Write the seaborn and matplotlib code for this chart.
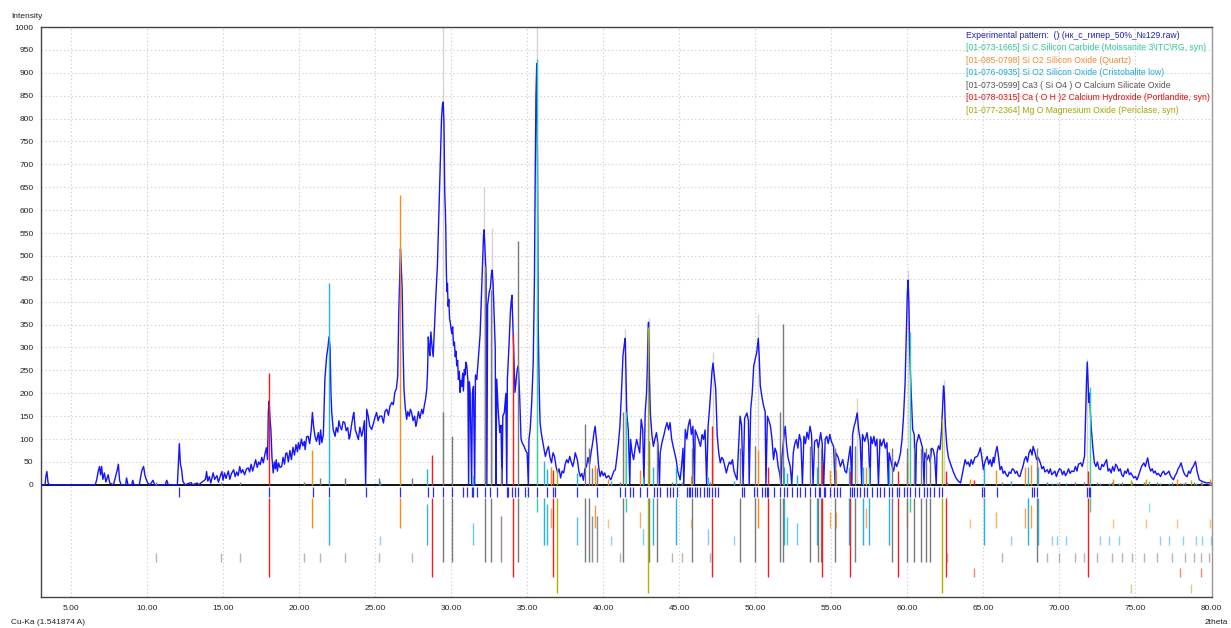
import numpy as np
import pandas as pd
import matplotlib
matplotlib.use("Agg")
import matplotlib.pyplot as plt
import seaborn as sns
from matplotlib.ticker import FixedLocator, FuncFormatter

# ---------------------------------------------------------------
# Measured profile: (2theta, counts), split by angular range
# ---------------------------------------------------------------
profile_3_17 = [
    (3.0, 0), (3.3, 0), (3.35, 18), (3.42, 29), (3.5, 4), (3.6, 0), (4.0, 0), (5.0, 0), (6.0, 0),
    (6.6, 0), (6.7, 12), (6.8, 30), (6.88, 40), (6.95, 22), (7.02, 40), (7.1, 12), (7.2, 26),
    (7.3, 6), (7.45, 22), (7.55, 4), (7.8, 0), (7.95, 20), (8.05, 33), (8.12, 45), (8.2, 10),
    (8.3, 0), (8.6, 0), (8.66, 15), (8.75, 0), (9.0, 0), (9.06, 10), (9.15, 0), (9.5, 0),
    (9.6, 20), (9.68, 33), (9.78, 40), (9.86, 22), (9.95, 12), (10.05, 4), (10.2, 0), (10.4, 10),
    (10.5, 0), (11.2, 0), (11.3, 10), (11.4, 0), (12.0, 0), (12.06, 40), (12.13, 90), (12.2, 45),
    (12.28, 33), (12.36, 8), (12.5, 0), (12.9, 5), (13.0, 0), (13.3, 4), (13.4, 0), (13.85, 12),
    (13.92, 29), (14.0, 8), (14.1, 18), (14.2, 4), (14.35, 26), (14.45, 12), (14.6, 20), (14.7, 6),
    (14.85, 22), (14.93, 29), (15.0, 10), (15.1, 26), (15.2, 14), (15.35, 30), (15.45, 12),
    (15.55, 24), (15.7, 33), (15.8, 18), (15.9, 28), (16.0, 20), (16.1, 40), (16.2, 26),
    (16.3, 33), (16.42, 22), (16.55, 35), (16.66, 37), (16.75, 28), (16.85, 45), (16.95, 30),
]

profile_17_27 = [
    (17.05, 42), (17.15, 55), (17.25, 38), (17.35, 50), (17.45, 44), (17.55, 60), (17.65, 48),
    (17.75, 66), (17.85, 81), (17.93, 55), (17.98, 158), (18.03, 183), (18.1, 140), (18.15, 121),
    (18.22, 60), (18.3, 26), (18.38, 50), (18.45, 35), (18.5, 55), (18.58, 30), (18.65, 48),
    (18.75, 38), (18.86, 40), (18.95, 60), (19.05, 45), (19.12, 68), (19.2, 70), (19.3, 50),
    (19.4, 75), (19.5, 55), (19.6, 82), (19.7, 65), (19.8, 88), (19.9, 72), (19.96, 92),
    (20.05, 78), (20.15, 100), (20.25, 85), (20.35, 95), (20.4, 77), (20.5, 105), (20.6, 106),
    (20.7, 90), (20.8, 120), (20.88, 158), (20.95, 130), (21.05, 106), (21.15, 95), (21.27, 114),
    (21.35, 88), (21.42, 120), (21.5, 92), (21.6, 110), (21.7, 231), (21.82, 282), (21.9, 300),
    (21.97, 323), (22.04, 300), (22.1, 200), (22.15, 158), (22.25, 120), (22.37, 106),
    (22.45, 125), (22.55, 115), (22.62, 140), (22.7, 128), (22.8, 120), (22.9, 138), (23.0, 136),
    (23.1, 118), (23.2, 125), (23.3, 100), (23.35, 106), (23.45, 130), (23.55, 150), (23.6, 158),
    (23.7, 120), (23.8, 110), (23.9, 99), (24.0, 126), (24.12, 106), (24.2, 118), (24.3, 140),
    (24.38, 0), (24.45, 165), (24.55, 150), (24.65, 128), (24.78, 121), (24.9, 135), (25.0, 148),
    (25.1, 158), (25.2, 140), (25.3, 150), (25.44, 150), (25.55, 135), (25.65, 160), (25.77, 165),
    (25.88, 152), (25.98, 172), (26.1, 180), (26.2, 175), (26.3, 202), (26.4, 210), (26.49, 238),
    (26.56, 378), (26.62, 450), (26.67, 515),
]

profile_27_38 = [
    (26.72, 480), (26.78, 429), (26.84, 300), (26.9, 209), (26.98, 170), (27.08, 143),
    (27.15, 160), (27.25, 150), (27.32, 165), (27.4, 158), (27.5, 140), (27.6, 150), (27.68, 128),
    (27.74, 136), (27.85, 160), (27.95, 145), (28.07, 165), (28.15, 155), (28.25, 175),
    (28.32, 187), (28.4, 210), (28.45, 246), (28.5, 323), (28.55, 300), (28.6, 282), (28.67, 334),
    (28.75, 300), (28.82, 280), (28.9, 340), (29.0, 414), (29.1, 480), (29.2, 598), (29.3, 708),
    (29.37, 800), (29.43, 830), (29.48, 836), (29.53, 790), (29.58, 640), (29.62, 600),
    (29.65, 561), (29.68, 480), (29.72, 422), (29.76, 440), (29.8, 390), (29.85, 405),
    (29.9, 362), (29.94, 356), (30.0, 340), (30.05, 330), (30.1, 345), (30.16, 304),
    (30.22, 312), (30.27, 280), (30.32, 292), (30.37, 260), (30.43, 272), (30.48, 230),
    (30.54, 248), (30.59, 202), (30.65, 228), (30.7, 215), (30.76, 244), (30.81, 205),
    (30.87, 252), (30.92, 240), (30.97, 268), (31.03, 260), (31.1, 230), (31.15, 0),
    (31.2, 225), (31.25, 205), (31.35, 0), (31.4, 200), (31.47, 215), (31.55, 0), (31.6, 240),
    (31.69, 230), (31.8, 280), (31.91, 330), (32.0, 420), (32.08, 500), (32.13, 545),
    (32.17, 557), (32.22, 520), (32.3, 460), (32.35, 0), (32.4, 392), (32.5, 420), (32.58, 430),
    (32.65, 460), (32.7, 469), (32.76, 440), (32.82, 380), (32.9, 300), (32.95, 0), (33.0, 231),
    (33.1, 160), (33.2, 114), (33.28, 130), (33.35, 0), (33.4, 150), (33.5, 158), (33.6, 200),
    (33.66, 0), (33.7, 231), (33.8, 300), (33.9, 378), (33.95, 400), (34.0, 414), (34.05, 360),
    (34.12, 280), (34.2, 202), (34.28, 230), (34.35, 253), (34.42, 260), (34.5, 200),
    (34.56, 140), (34.6, 99), (34.7, 90), (34.8, 84), (34.9, 75), (35.0, 70), (35.08, 0),
    (35.12, 100), (35.2, 121), (35.3, 180), (35.4, 268), (35.48, 450), (35.53, 671),
    (35.58, 850), (35.63, 920), (35.68, 700), (35.73, 341), (35.8, 200), (35.85, 136),
    (35.92, 115), (36.0, 99), (36.1, 80), (36.2, 62), (36.3, 75), (36.4, 84), (36.5, 60),
    (36.6, 48), (36.7, 70), (36.8, 62), (36.9, 40), (37.0, 26), (37.1, 35), (37.2, 15),
    (37.3, 30), (37.4, 26), (37.5, 45), (37.6, 55), (37.7, 48), (37.8, 62), (37.9, 50),
    (38.0, 40),
]

profile_38_65 = [
    (38.1, 55), (38.16, 70), (38.25, 60), (38.3, 55), (38.4, 30), (38.5, 18), (38.6, 25),
    (38.7, 10), (38.8, 35), (38.9, 40), (39.0, 60), (39.1, 45), (39.2, 70), (39.3, 90),
    (39.4, 115), (39.47, 128), (39.55, 100), (39.6, 84), (39.7, 40), (39.8, 18), (39.9, 30),
    (40.0, 20), (40.1, 26), (40.2, 15), (40.35, 20), (40.5, 11), (40.6, 20), (40.7, 30),
    (40.8, 33), (40.9, 60), (41.0, 90), (41.1, 128), (41.2, 200), (41.3, 282), (41.4, 310),
    (41.45, 320), (41.5, 240), (41.55, 157), (41.65, 120), (41.75, 0), (41.8, 99), (41.9, 70),
    (42.0, 55), (42.1, 80), (42.2, 99), (42.3, 85), (42.4, 70), (42.5, 143), (42.6, 120),
    (42.68, 0), (42.76, 157), (42.85, 200), (42.9, 253), (42.95, 330), (42.98, 355),
    (43.03, 250), (43.1, 157), (43.2, 110), (43.3, 84), (43.4, 100), (43.5, 114), (43.6, 90),
    (43.7, 0), (43.75, 70), (43.85, 90), (44.0, 110), (44.1, 125), (44.2, 136), (44.3, 120),
    (44.4, 136), (44.5, 100), (44.6, 84), (44.7, 70), (44.8, 55), (44.9, 30), (45.06, 11),
    (45.15, 40), (45.25, 80), (45.3, 0), (45.4, 121), (45.5, 100), (45.6, 130), (45.7, 143),
    (45.8, 110), (45.9, 128), (46.0, 0), (46.05, 120), (46.2, 106), (46.3, 95), (46.4, 84),
    (46.5, 110), (46.6, 99), (46.7, 120), (46.8, 0), (46.9, 128), (47.0, 170), (47.1, 220),
    (47.15, 246), (47.22, 266), (47.3, 240), (47.4, 209), (47.5, 106), (47.6, 70), (47.7, 48),
    (47.8, 60), (47.9, 55), (48.0, 40), (48.1, 26), (48.2, 40), (48.3, 50), (48.4, 45),
    (48.5, 55), (48.6, 30), (48.7, 20), (48.8, 11), (48.9, 80), (49.0, 150), (49.1, 130),
    (49.2, 0), (49.3, 145), (49.45, 157), (49.55, 140), (49.6, 0), (49.7, 165), (49.8, 200),
    (49.9, 260), (50.0, 275), (50.1, 290), (50.15, 305), (50.2, 320), (50.26, 280), (50.33, 216),
    (50.45, 190), (50.55, 172), (50.65, 160), (50.7, 0), (50.8, 150), (50.9, 140), (51.0, 128),
    (51.1, 100), (51.2, 55), (51.3, 80), (51.4, 70), (51.5, 40), (51.6, 26), (51.7, 0),
    (51.75, 60), (51.9, 110), (51.97, 128), (52.05, 90), (52.15, 60), (52.3, 40), (52.4, 0),
    (52.5, 70), (52.6, 90), (52.7, 99), (52.8, 80), (52.9, 110), (53.0, 95), (53.1, 0),
    (53.2, 106), (53.3, 90), (53.4, 115), (53.5, 100), (53.6, 128), (53.7, 110), (53.8, 0),
    (53.9, 95), (54.05, 99), (54.15, 80), (54.3, 114), (54.4, 90), (54.5, 0), (54.6, 100),
    (54.7, 106), (54.8, 90), (54.9, 110), (55.0, 95), (55.15, 84), (55.25, 0), (55.3, 70),
    (55.45, 60), (55.6, 40), (55.75, 55), (55.9, 30), (56.0, 26), (56.1, 50), (56.25, 84),
    (56.35, 0), (56.4, 110), (56.5, 128), (56.6, 140), (56.7, 157), (56.8, 120), (56.9, 99),
    (57.0, 0), (57.05, 110), (57.2, 95), (57.35, 114), (57.45, 90), (57.55, 0), (57.6, 105),
    (57.7, 90), (57.8, 106), (57.9, 85), (58.0, 100), (58.1, 0), (58.2, 99), (58.3, 85),
    (58.45, 100), (58.55, 80), (58.66, 92), (58.75, 0), (58.8, 70), (58.9, 55), (59.0, 40),
    (59.1, 30), (59.2, 50), (59.3, 40), (59.45, 55), (59.55, 70), (59.65, 100), (59.75, 150),
    (59.85, 220), (59.9, 290), (59.95, 363), (60.0, 420), (60.05, 447), (60.1, 400),
    (60.15, 300), (60.2, 246), (60.28, 180), (60.35, 121), (60.45, 110), (60.55, 0), (60.6, 90),
    (60.75, 110), (60.85, 99), (61.0, 80), (61.1, 0), (61.15, 70), (61.3, 55), (61.4, 65),
    (61.5, 50), (61.6, 80), (61.7, 77), (61.8, 60), (61.9, 0), (61.95, 70), (62.05, 85),
    (62.15, 77), (62.25, 120), (62.33, 180), (62.38, 216), (62.43, 200), (62.5, 130),
    (62.6, 84), (62.7, 60), (62.8, 50), (62.9, 40), (63.05, 26), (63.2, 15), (63.35, 8),
    (63.5, 4), (63.65, 30), (63.8, 55), (63.9, 45), (64.0, 50), (64.1, 40), (64.2, 55),
    (64.3, 45), (64.45, 60), (64.6, 62), (64.7, 70), (64.8, 81),
]

profile_65_80 = [
    (64.9, 60), (65.0, 33), (65.1, 50), (65.25, 62), (65.35, 45), (65.45, 55), (65.55, 40),
    (65.65, 60), (65.7, 48), (65.8, 70), (65.9, 84), (66.0, 60), (66.1, 33), (66.2, 40),
    (66.3, 25), (66.4, 30), (66.5, 22), (66.6, 18), (66.7, 28), (66.8, 25), (66.9, 35),
    (67.0, 33), (67.1, 25), (67.2, 30), (67.3, 20), (67.4, 18), (67.5, 30), (67.6, 40),
    (67.7, 55), (67.8, 62), (67.9, 50), (68.0, 70), (68.1, 77), (68.2, 65), (68.27, 84),
    (68.35, 75), (68.4, 70), (68.5, 55), (68.6, 60), (68.75, 48), (68.85, 35), (68.95, 40),
    (69.05, 28), (69.2, 33), (69.3, 25), (69.4, 35), (69.5, 22), (69.6, 26), (69.7, 30),
    (69.8, 18), (69.9, 28), (70.0, 35), (70.1, 33), (70.2, 22), (70.3, 30), (70.4, 20),
    (70.5, 26), (70.6, 35), (70.7, 25), (70.8, 30), (70.95, 29), (71.05, 40), (71.15, 30),
    (71.25, 45), (71.4, 48), (71.5, 40), (71.6, 55), (71.65, 62), (71.72, 150), (71.78, 224),
    (71.83, 268), (71.88, 230), (71.93, 180), (71.98, 200), (72.05, 150), (72.1, 121),
    (72.2, 80), (72.3, 48), (72.4, 40), (72.5, 50), (72.6, 35), (72.7, 33), (72.8, 45),
    (72.9, 40), (73.0, 48), (73.1, 55), (73.2, 30), (73.3, 35), (73.4, 26), (73.5, 40),
    (73.6, 30), (73.7, 45), (73.8, 40), (73.9, 30), (74.0, 35), (74.1, 22), (74.2, 18),
    (74.3, 30), (74.4, 25), (74.5, 35), (74.6, 22), (74.7, 26), (74.8, 20), (74.9, 15),
    (75.0, 18), (75.1, 11), (75.2, 20), (75.3, 30), (75.4, 40), (75.55, 48), (75.65, 40),
    (75.8, 59), (75.9, 40), (76.0, 30), (76.1, 35), (76.2, 26), (76.3, 30), (76.4, 22),
    (76.5, 25), (76.65, 18), (76.75, 26), (76.85, 30), (76.95, 22), (77.1, 26), (77.2, 30),
    (77.3, 20), (77.4, 15), (77.5, 11), (77.6, 20), (77.7, 25), (77.8, 35), (77.9, 40),
    (78.0, 48), (78.1, 35), (78.2, 25), (78.3, 20), (78.4, 18), (78.5, 30), (78.6, 25),
    (78.7, 35), (78.8, 40), (78.95, 51), (79.05, 30), (79.2, 11), (79.35, 8), (79.5, 6),
    (79.7, 4), (79.85, 5), (80.0, 4),
]

# un-smoothed maxima of the strongest reflections
raw_max_pos = [29.46, 35.63, 32.16, 32.70, 42.98, 41.45, 47.22, 50.20, 56.70, 60.05, 62.38, 71.84]
raw_max_int = [1000, 1000, 650, 560, 365, 340, 290, 374, 190, 470, 230, 275]

# peaks found in the measured pattern
found_peaks = [
    12.1, 18.05, 20.9, 22.0, 24.4, 26.64, 28.5, 28.83, 29.49, 30.04, 30.81, 31.03, 31.35, 31.46,
    31.68, 32.23, 32.56, 33.0, 33.66, 33.77, 33.99, 34.21, 34.42, 34.86, 35.08, 35.63, 36.29,
    36.73, 36.84, 38.26, 39.58, 41.11, 41.44, 41.77, 41.99, 42.43, 42.87, 43.31, 43.53, 43.75,
    44.18, 44.4, 44.62, 44.84, 45.5, 45.61, 45.72, 45.83, 46.05, 46.16, 46.38, 46.6, 46.82,
    46.93, 47.14, 47.36, 47.58, 49.12, 49.23, 49.89, 50.1, 50.43, 50.65, 50.76, 50.87, 51.2,
    51.64, 51.86, 52.08, 52.41, 52.74, 52.96, 53.28, 53.61, 53.94, 54.16, 54.28, 54.5, 54.61,
    54.94, 55.16, 55.37, 55.59, 56.25, 56.36, 56.47, 56.69, 56.91, 57.13, 57.35, 57.68, 58.01,
    58.23, 58.44, 58.77, 58.99, 59.32, 59.43, 59.76, 59.98, 60.2, 60.53, 60.75, 61.08, 61.3,
    61.52, 61.73, 62.06, 62.28, 64.91, 65.02, 65.9, 68.2, 68.31, 68.53, 71.82, 71.93, 72.04,
]

# reference phases: line positions (2theta) and relative intensities (%)
sic_pos = [35.65, 41.50, 60.20, 72.00, 75.88]
sic_rel = [100, 17, 36, 23, 1]

quartz_pos = [20.86, 26.65, 36.55, 39.47, 40.30, 42.45, 45.80, 50.15, 54.90, 55.30, 57.30,
              60.00, 64.10, 65.80, 67.75, 68.15, 73.50, 75.70, 77.70, 79.90]
quartz_rel = [12, 100, 6, 7, 2, 5, 3, 12, 5, 5, 6, 8, 2, 5, 6, 7, 2, 2, 2, 2]

cristo_pos = [21.97, 25.30, 28.42, 31.42, 36.10, 36.30, 38.30, 40.50, 42.60, 43.30, 44.80,
              46.90, 48.60, 51.90, 52.10, 52.75, 54.05, 56.15, 57.06, 57.45, 58.77, 65.05,
              66.80, 67.95, 68.60, 69.50, 69.85, 70.40, 72.70, 73.25, 73.90, 76.60, 77.20,
              78.10, 78.95, 79.40, 79.95]
cristo_rel = [100, 2, 8, 5, 12, 8, 6, 2, 4, 9, 9, 4, 2, 9, 6, 5, 9, 9, 9, 9, 9, 9, 2, 9, 9,
              1, 1, 1, 1, 1, 1, 1, 1, 1, 1, 1, 1]

c3s_pos = [10.60, 14.90, 16.10, 20.30, 21.35, 23.00, 25.25, 27.45, 29.45, 30.05, 32.20,
           32.60, 33.30, 34.43, 38.80, 39.05, 39.25, 39.60, 41.10, 41.33, 42.98, 43.55,
           44.50, 45.20, 45.85, 47.03, 49.00, 50.00, 51.65, 51.82, 53.60, 54.10, 54.30,
           55.26, 56.58, 58.99, 59.98, 60.42, 60.90, 61.20, 61.50, 62.60, 66.23, 68.53,
           69.20, 69.96, 71.05, 71.60, 72.48, 73.47, 74.12, 74.78, 75.55, 76.43, 77.41,
           78.29, 78.84, 79.28, 79.83]
c3s_rel = [1, 1, 1, 1, 3, 3, 3, 3, 30, 20, 90, 80, 7, 100, 25, 15, 7, 7, 1, 30, 18, 18,
           1, 1, 15, 1, 15, 16, 30, 66, 16, 15, 15, 15, 16, 15, 15, 15, 15, 15, 15, 1, 1, 15,
           1, 1, 1, 1, 1, 1, 1, 1, 1, 1, 1, 1, 1, 1, 1]

portl_pos = [18.05, 28.72, 34.10, 36.73, 47.15, 50.85, 54.40, 56.25, 59.40, 62.55, 64.40,
             71.90, 77.96, 79.32]
portl_rel = [74, 20, 100, 10, 39, 12, 13, 9, 9, 9, 3, 9, 1, 1]

peric_pos = [36.95, 42.95, 62.30, 74.70, 78.65]
peric_rel = [10, 100, 42, 3, 3]

phase_names = [
    "[01-073-1665] Si C Silicon Carbide (Moissanite 3\\ITC\\RG, syn)",
    "[01-085-0798] Si O2 Silicon Oxide (Quartz)",
    "[01-076-0935] Si O2 Silicon Oxide (Cristobalite low)",
    "[01-073-0599] Ca3 ( Si O4 ) O Calcium Silicate Oxide",
    "[01-078-0315] Ca ( O H )2 Calcium Hydroxide (Portlandite, syn)",
    "[01-077-2364] Mg O Magnesium Oxide (Periclase, syn)",
]
phase_scale = [9.3, 6.34, 4.4, 5.32, 3.3, 3.44]   # counts per 1 % of relative intensity
pattern_name = "Experimental pattern:  () (нк_с_гипер_50%_№129.raw)"

x_ticks = [5, 10, 15, 20, 25, 30, 35, 40, 45, 50, 55, 60, 65, 70, 75, 80]
y_ticks = list(range(0, 1001, 50))

# ---------------------------------------------------------------
# Styling
# ---------------------------------------------------------------
sns.set_style("white")
plt.rcParams["font.family"] = ["Liberation Sans", "DejaVu Sans"]

phase_colors = ["#2fd3a0", "#ff8a10", "#22b2ea", "#7a7a7a", "#ff1818", "#a9b300"]
legend_colors = ["#30c898", "#f08a30", "#20a8d8", "#555555", "#e01010", "#a0a800"]
pattern_color = "#1414ff"
grid_color = "#cfcfcf"

fig = plt.figure(figsize=(12.31, 6.28), dpi=100)
ax = fig.add_axes([40.5 / 1231, 1 - 597 / 628, (1211.5 - 40.5) / 1231, (597 - 27) / 628])
ax.set_xlim(3, 80)
ax.set_ylim(-245, 1000)

# dotted grid
for xv in x_ticks:
    ax.axvline(xv, color=grid_color, lw=0.8, ls=(0, (1.2, 2.2)), zorder=0)
for yv in y_ticks[1:]:
    ax.axhline(yv, color=grid_color, lw=0.8, ls=(0, (1.2, 2.2)), zorder=0)

# zero line
ax.axhline(0, color="black", lw=1.3, zorder=2)

# un-smoothed maxima behind the profile
ax.vlines(raw_max_pos, 0, raw_max_int, color="#d4d4d4", lw=1.0, zorder=1)

# measured profile
profile = pd.DataFrame(
    profile_3_17 + profile_17_27 + profile_27_38 + profile_38_65 + profile_65_80,
    columns=["two_theta", "intensity"],
)
sns.lineplot(data=profile, x="two_theta", y="intensity", ax=ax, color=pattern_color,
             lw=1.0, estimator=None, sort=False, zorder=3)

# reference sticks: upper area scaled to counts, lower area one band per phase
phases = [(sic_pos, sic_rel), (quartz_pos, quartz_rel), (cristo_pos, cristo_rel),
          (c3s_pos, c3s_rel), (portl_pos, portl_rel), (peric_pos, peric_rel)]
band_bottoms = [-59, -94, -131, -168, -201, -236]
band_top = -28
tick_len = 20

for (pos, rel), scale, col, bottom in zip(phases, phase_scale, phase_colors, band_bottoms):
    pos = np.asarray(pos, float)
    rel = np.asarray(rel, float)
    ax.vlines(pos, 0, rel * scale, color=col, lw=1.0, zorder=4)
    frac = np.clip((rel - 3) / 6, 0, 1)
    tops = bottom + tick_len + frac * (band_top - bottom - tick_len)
    alphas = 0.55 + 0.45 * frac
    for p, t, a in zip(pos, tops, alphas):
        ax.vlines(p, bottom, t, color=col, lw=1.0, alpha=a, zorder=4)

# markers of the peaks found in the pattern
ax.vlines(found_peaks, -26, -4, color="#2a2aff", lw=0.9, zorder=4)

# axes, ticks and labels
ax.xaxis.set_major_locator(FixedLocator(x_ticks))
ax.yaxis.set_major_locator(FixedLocator(y_ticks))
ax.xaxis.set_major_formatter(FuncFormatter(lambda v, _: f"{v:.2f}"))
ax.yaxis.set_major_formatter(FuncFormatter(lambda v, _: f"{v:.0f}"))
ax.tick_params(axis="both", labelsize=6, colors="#222222", length=3, width=0.8, direction="out")
ax.tick_params(axis="x", length=0, pad=6)
ax.tick_params(axis="y", pad=2)
ax.set_xlabel("")
ax.set_ylabel("")
for side in ["left", "bottom", "top"]:
    ax.spines[side].set_color("#444444")
    ax.spines[side].set_linewidth(1.0)
ax.spines["right"].set_color("#999999")
ax.spines["right"].set_linewidth(1.0)

fig.text(11 / 1231, 1 - 16 / 628, "Intensity", fontsize=6, color="#222222", va="center", ha="left")
fig.text(11 / 1231, 1 - 622 / 628, "Cu-Ka (1.541874 A)", fontsize=6, color="#222222",
         va="center", ha="left")
fig.text(1205 / 1231, 1 - 623 / 628, "2theta", fontsize=6, color="#222222", va="center", ha="left")

# phase list, top right
legend_lines = [pattern_name] + phase_names
legend_cols = ["#2020b8"] + legend_colors
for i, (txt, col) in enumerate(zip(legend_lines, legend_cols)):
    fig.text(966 / 1231, 1 - (35 + i * 12.6) / 628, txt, fontsize=6.2, color=col,
             va="center", ha="left")

fig.savefig("out.png", dpi=100)
